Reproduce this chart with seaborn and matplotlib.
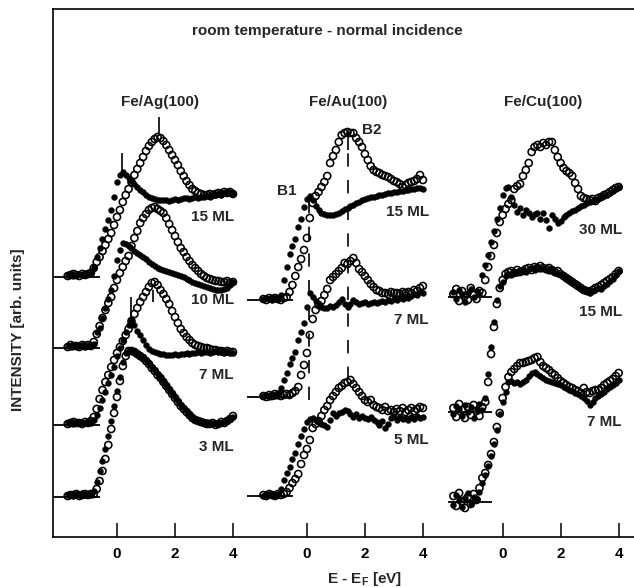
import numpy as np
import pandas as pd
import matplotlib
matplotlib.use("Agg")
import matplotlib.pyplot as plt
import seaborn as sns

# ---------------- data (intensity in arb. units above each spectrum's baseline) -------------
AG_ENERGY = [-1.7,-1.6,-1.5,-1.4,-1.3,-1.2,-1.1,-1.0,-0.9,-0.8,-0.7,-0.6,-0.5,-0.4,-0.3,-0.2,-0.1,0.0,
             0.1,0.2,0.3,0.4,0.5,0.6,0.7,0.8,0.9,1.0,1.1,1.2,1.3,1.4,1.5,1.6,1.7,1.8,1.9,2.0,
             2.1,2.2,2.3,2.4,2.5,2.6,2.7,2.8,2.9,3.0,3.1,3.2,3.3,3.4,3.5,3.6,3.7,3.8,3.9,4.0]
AU_ENERGY = [-1.5,-1.4,-1.3,-1.2,-1.1,-1.0,-0.9,-0.8,-0.7,-0.6,-0.5,-0.4,-0.3,-0.2,-0.1,0.0,
             0.1,0.2,0.3,0.4,0.5,0.6,0.7,0.8,0.9,1.0,1.1,1.2,1.3,1.4,1.5,1.6,1.7,1.8,1.9,2.0,
             2.1,2.2,2.3,2.4,2.5,2.6,2.7,2.8,2.9,3.0,3.1,3.2,3.3,3.4,3.5,3.6,3.7,3.8,3.9,4.0]
CU_ENERGY = AG_ENERGY

# Fe/Ag(100)
AG_15_FILLED = [2,3,1,2,3,2,4,3,5, 10,20,29,38,48,57,67,80,95, 102,105,102,99,96,93,90,87,85,82,
                80,79,78,77,77,77,77,76,77,78, 77,78,79,79,78,79,80,79,80,80, 81,80,82,82,83,82,84,84,85,83]
AG_15_OPEN = [1,2,3,2,1,3,2,3,4, 9,15,20,26,32,38,44,52,60, 67,75,82,88,95,102,108,114,120,126,
              131,135,138,140,139,136,132,127,122,117, 112,106,101,96,92,88,86,84,83,82, 82,83,82,83,84,83,85,84,85,83]
AG_10_FILLED = [2,1,3,2,2,3,1,2,3,4, 16,20,30,40,49,58,72,88, 98,105,104,102,100,97,95,93,91,89,
                86,84,82,80,79,78,77,76,75,74, 73,72,71,69,68,66,65,64,63,62, 61,60,59,58,58,58,59,60,63,66]
AG_10_OPEN = [1,3,2,2,1,3,2,3,2,6, 14,22,30,38,45,51,60,68, 75,81,87,92,102,110,117,125,130,134,
              138,140,141,139,137,135,130,124,118,112, 106,100,96,91,87,83,80,77,74,72, 70,69,68,67,67,66,66,67,65,66]
AG_7_FILLED = [2,3,1,2,3,2,2,3,2,5, 10,17,25,33,42,50,58,69, 77,85,93,100,105,100,94,90,85,80,
               76,74,73,72,71,71,70,70,70,71, 70,71,71,72,71,72,72,73,72,73, 73,72,73,74,73,73,72,73,72,72]
AG_7_OPEN = [1,2,3,2,2,1,3,2,4,8, 16,26,35,43,50,58,65,72, 78,84,90,96,104,111,117,123,128,133,
             138,142,143,140,135,131,126,121,114,108, 102,96,92,88,85,82,80,79,78,77, 77,76,75,75,74,74,73,74,73,73]
AG_3_FILLED = [2,3,1,3,2,4,2,3,2, 6,15,26,36,48,61,76,91,106, 120,135,144,147,147,146,144,142,140,137,
               134,130,127,123,120,116,112,108,104,100, 96,92,89,86,83,80,78,77,76,75, 75,74,74,73,74,74,75,76,78,80]
AG_3_OPEN = [1,2,2,3,1,2,3,2,3, 3,8,16,26,38,52,68,84,100, 116,131,141,146,146,145,143,141,139,136,
             133,129,126,122,119,115,111,107,103,99, 95,91,88,85,82,79,77,76,75,74, 73,73,74,72,73,75,74,76,78,81]

# Fe/Au(100)
AU_15_FILLED = [1,2,1,0,2,1, 5,20,33,46,54,61,73,81,93,101, 104,100,94,90,87,86,85,85,85,86,
                87,89,91,92,94,95,97,98,100,101, 102,103,103,104,105,105,106,107,107,108, 108,109,109,110,110,111,111,112,112,111]
AU_15_OPEN = [1,0,2,1,2,1,0,2,3, 8,15,24,33,41,50,62, 82,97,104,108,113,118,124,137,144,150,
              158,165,167,168,167,167,162,158,153,146, 140,134,130,128,127,125,124,123,121,119, 118,116,113,115,117,118,119,121,125,120]
AU_7_FILLED = [1,2,0,2,1, 4,9,17,24,33,39,45,57,65,74,90, 104,100,96,93,90,89,89,91,90,92,
               95,98,93,90,93,97,95,93,94,95, 93,94,95,94,95,96,95,97,96,98, 97,99,98,100,99,101,103,102,105,104]
AU_7_OPEN = [1,0,2,1,3,2,1,2,3,2,4,6, 10,22,32,44, 62,78,87,92,96,102,108,117,120,123,
             126,129,134,133,136,139,134,128,125,121, 117,113,110,107,106,104,104,103,105,104, 104,103,105,104,105,104,107,106,109,111]
AU_5_FILLED = [0,1,2,1,0,2, 7,16,23,29,37,43,52,60,67,74, 77,78,76,74,72,71,69,76,83,80,
               83,84,86,85,82,79,82,78,80,78, 77,79,76,74,71,75,68,72,78,80, 76,79,77,78,76,79,77,80,78,79]
AU_5_OPEN = [1,0,2,1,0,2,1,2, 4,8,13,17,22,32,41,47, 56,68,72,75,80,86,90,96,100,104,
             108,110,113,114,116,112,108,104,100,96, 94,96,91,89,88,86,89,85,86,84, 87,85,88,84,86,88,85,87,89,88]

# Fe/Cu(100)
CU_30_FILLED = [5,-2,7,3,-5,4,8,0,6,3, 22,32,42,55,66,78,89,102, 109,110,100,92,85,89,82,87,84,80,
                83,84,78,84,77,69,82,78,74,76, 80,82,84,86,87,89,91,92,94,95, 96,97,98,100,101,102,104,106,108,110]
CU_30_OPEN = [3,8,-4,6,1,-3,9,2,-2,6,4, 17,30,41,52,64,75,82, 88,93,97,108,111,113,121,127,134,145,
              150,152,150,154,152,155,155,147,140,134, 129,126,124,121,114,108,101,99,98,97, 98,96,99,100,102,103,105,107,109,110]
CU_15_FILLED = [-2,6,3,-4,7,0,5,-6,3,8,2, 14,38,65,90,112,126,130, 136,138,137,140,139,141,142,140,143,144,
                142,145,143,144,142,141,143,139,138,137, 135,133,131,129,127,125,123,122,121,119, 121,122,124,123,126,128,131,133,137,141]
CU_15_OPEN = [4,-5,8,2,-6,5,-3,7,1,-4,5, 10,30,58,85,108,124,132, 138,140,141,139,142,140,141,143,144,142,
              145,144,146,144,143,144,142,140,141,138, 136,134,132,130,128,126,124,122,121,120, 122,124,125,127,129,131,133,135,138,141]
CU_7_FILLED = [-3,7,2,-5,4,9,-2,5,3, 10,19,27,36,46,58,72,88,100, 110,120,121,119,120,118,120,122,126,129,
               130,128,126,124,122,121,120,119,118,117, 115,114,112,111,109,108,106,104,101,97, 100,104,106,108,110,113,115,117,119,122]
CU_7_OPEN = [6,-4,9,1,-6,5,-2,8,2, 14,24,29,37,48,60,75,89,104, 115,125,130,133,136,139,139,140,141,142,
             144,145,140,136,134,132,129,127,124,121, 119,117,115,114,112,111,109,114,110,109, 111,112,112,114,117,119,121,123,126,129]

PANEL_TITLES = ["Fe/Ag(100)", "Fe/Au(100)", "Fe/Cu(100)"]
AG_LABELS = ["15 ML", "10 ML", "7 ML", "3 ML"]
AU_LABELS = ["15 ML", "7 ML", "5 ML"]
CU_LABELS = ["30 ML", "15 ML", "7 ML"]
AG_OFFSETS = [260, 189, 112, 40]
AU_OFFSETS = [237, 140, 41]
CU_OFFSETS = [240, 125, 35]
TICK_VALUES = [0, 2, 4]
TICK_LABELS = ["0", "2", "4"]

# ---------------- layout helpers ----------------
PANEL_SHIFT = [0.0, 6.55, 13.3]

sns.set_theme(style="white")
plt.rcParams['font.family'] = ['Liberation Sans', 'DejaVu Sans']
plt.rcParams['font.weight'] = 'bold'
plt.rcParams['mathtext.fontset'] = 'custom'
plt.rcParams['mathtext.rm'] = 'Liberation Sans:bold'
plt.rcParams['mathtext.bf'] = 'Liberation Sans:bold'
plt.rcParams['mathtext.it'] = 'Liberation Sans:bold'

panels = [
    (AG_ENERGY, AG_OFFSETS, AG_LABELS, [(AG_15_FILLED, AG_15_OPEN), (AG_10_FILLED, AG_10_OPEN),
                                        (AG_7_FILLED, AG_7_OPEN), (AG_3_FILLED, AG_3_OPEN)]),
    (AU_ENERGY, AU_OFFSETS, AU_LABELS, [(AU_15_FILLED, AU_15_OPEN), (AU_7_FILLED, AU_7_OPEN),
                                        (AU_5_FILLED, AU_5_OPEN)]),
    (CU_ENERGY, CU_OFFSETS, CU_LABELS, [(CU_30_FILLED, CU_30_OPEN), (CU_15_FILLED, CU_15_OPEN),
                                        (CU_7_FILLED, CU_7_OPEN)]),
]

rows = []
for p, (energy, offsets, labels, series) in enumerate(panels):
    for (filled, opened), off, lab in zip(series, offsets, labels):
        for kind, vals in (("filled", filled), ("open", opened)):
            if len(vals) != len(energy):
                raise ValueError(f"length mismatch {PANEL_TITLES[p]} {lab} {kind}: {len(vals)} vs {len(energy)}")
            for e, v in zip(energy, vals):
                rows.append({"panel": PANEL_TITLES[p], "thickness": lab, "kind": kind,
                             "x": e + PANEL_SHIFT[p], "y": off + v})
df = pd.DataFrame(rows)

fig = plt.figure(figsize=(6.34, 5.87), dpi=100)
ax = fig.add_axes([52.5 / 634, 50 / 587, 581.5 / 634, 528 / 587])

sns.scatterplot(data=df[df.kind == "open"], x="x", y="y", s=26, facecolor="none",
                edgecolor="black", linewidth=1.15, ax=ax, legend=False, zorder=2)
sns.scatterplot(data=df[df.kind == "filled"], x="x", y="y", s=19, color="black",
                edgecolor="black", linewidth=0.2, ax=ax, legend=False, zorder=3)

# baselines (zero level of each spectrum)
BASE_START = [-2.23, -2.07, -1.9]
BASE_END = [-0.6, -0.48, -0.38]
for p, (energy, offsets, labels, series) in enumerate(panels):
    ax.hlines(offsets, PANEL_SHIFT[p] + BASE_START[p], PANEL_SHIFT[p] + BASE_END[p],
              color="black", lw=1.3, zorder=1)

# peak markers in Fe/Ag
AG_MARK_E = [0.17, 1.45, 0.48, 1.24]
AG_MARK_OFF = [AG_OFFSETS[0], AG_OFFSETS[0], AG_OFFSETS[2], AG_OFFSETS[2]]
AG_MARK_LO = [105, 141, 108, 123]
AG_MARK_HI = [124, 160, 128, 135]
for e, off, lo, hi in zip(AG_MARK_E, AG_MARK_OFF, AG_MARK_LO, AG_MARK_HI):
    ax.vlines(e, off + lo, off + hi, color="black", lw=1.2, zorder=4)

# B1 / B2 markers in Fe/Au
B_E = [0.07, 1.41]
B_SOLID_LO = [88, 150]
B_SOLID_HI = [105, 168]
B_DASH_LO = [-100, -80]
for e, lo, hi, dlo in zip(B_E, B_SOLID_LO, B_SOLID_HI, B_DASH_LO):
    x = e + PANEL_SHIFT[1]
    ax.vlines(x, AU_OFFSETS[0] + lo, AU_OFFSETS[0] + hi, color="black", lw=1.2, zorder=4)
    ax.plot([x, x], [AU_OFFSETS[0] + dlo, AU_OFFSETS[0] + lo], color="black", lw=1.2,
            linestyle=(0, (8, 8)), zorder=1)

# texts
FS = 11
ax.text(-0.69 + PANEL_SHIFT[1], 346, "B1", ha="center", va="center", fontsize=FS, fontweight="bold")
ax.text(2.24 + PANEL_SHIFT[1], 407, "B2", ha="center", va="center", fontsize=FS, fontweight="bold")

TITLE_E = [1.48, 1.41, 1.38]
for p, t in enumerate(PANEL_TITLES):
    ax.text(TITLE_E[p] + PANEL_SHIFT[p], 435, t, ha="center", va="center", fontsize=FS, fontweight="bold")

LABEL_E = [4.03, 4.21, 4.11]
LABEL_Y = [[320, 237, 162, 90], [325, 217, 97], [307, 225, 115]]
for p, (energy, offsets, labels, series) in enumerate(panels):
    for lab, yy in zip(labels, LABEL_Y[p]):
        ax.text(LABEL_E[p] + PANEL_SHIFT[p], yy, lab, ha="right", va="center",
                fontsize=FS, fontweight="bold")

ax.text(7.24, 506, "room temperature - normal incidence", ha="center", va="center",
        fontsize=FS, fontweight="bold")

fig.text(365 / 634, 1 - 579 / 587, r"E - E$_{\mathrm{F}}$ [eV]", ha="center", va="center",
         fontsize=FS, fontweight="bold")
fig.text(18 / 634, 1 - 330 / 587, "INTENSITY [arb. units]", ha="center", va="center",
         rotation=90, fontsize=FS, fontweight="bold")

# axes styling
ax.set_xlim(-2.224, 17.83)
ax.set_ylim(0, 528)
ticks = [s + v for s in PANEL_SHIFT for v in TICK_VALUES]
ax.set_xticks(ticks)
ax.set_xticklabels(TICK_LABELS * 3)
ax.set_yticks([])
ax.set_xlabel("")
ax.set_ylabel("")
ax.tick_params(axis="x", direction="in", length=10, width=1.1, pad=7, labelsize=FS,
               colors="black", bottom=True)
for lbl in ax.get_xticklabels():
    lbl.set_fontweight("bold")
for side in ["left", "bottom", "top"]:
    ax.spines[side].set_color("black")
    ax.spines[side].set_linewidth(1.2)
    ax.spines[side].set_visible(True)
ax.spines["right"].set_visible(False)

fig.savefig("out.png", dpi=100)
